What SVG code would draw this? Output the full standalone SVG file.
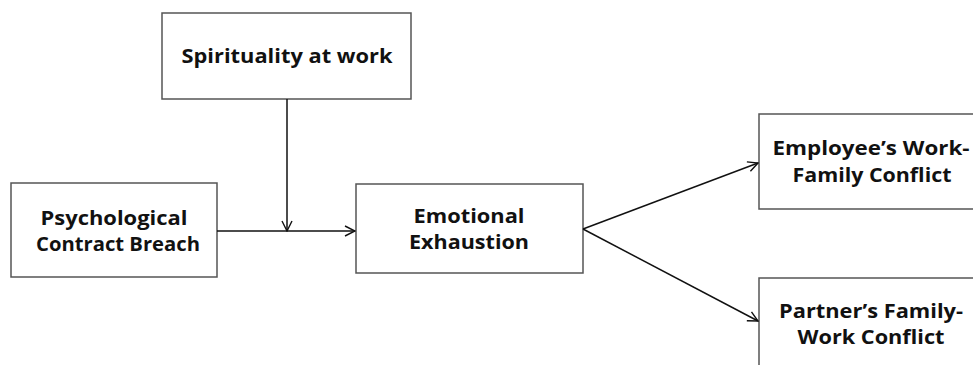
<svg xmlns="http://www.w3.org/2000/svg" width="973" height="365" viewBox="0 0 973 365">
<style>
.box{fill:#fff;stroke:#555;stroke-width:1.5}
.lbl{font-family:"Open Sans","Liberation Sans",sans-serif;font-weight:bold;font-size:19px;fill:#111;text-anchor:middle}
.con{stroke:#111;stroke-width:1.5;fill:none}
</style>
<defs>
<marker id="arr" viewBox="0 0 12 12" refX="11" refY="6" markerWidth="12" markerHeight="12" markerUnits="userSpaceOnUse" orient="auto">
<path d="M1,1 L11,6 L1,11" fill="none" stroke="#111" stroke-width="1.4"/>
</marker>
</defs>
<rect width="973" height="365" fill="#fff"/>
<g id="spirituality">
<rect class="box" x="162" y="13" width="249" height="86"/>
<text class="lbl" x="287" y="63" textLength="211" lengthAdjust="spacingAndGlyphs">Spirituality at work</text>
</g>
<g id="pcb">
<rect class="box" x="11" y="183" width="206" height="94"/>
<text class="lbl" x="114" y="225" textLength="147" lengthAdjust="spacingAndGlyphs">Psychological</text>
<text class="lbl" x="118" y="251" textLength="164" lengthAdjust="spacingAndGlyphs">Contract Breach</text>
</g>
<g id="ee">
<rect class="box" x="356" y="184" width="227" height="89"/>
<text class="lbl" x="469" y="223" textLength="111" lengthAdjust="spacingAndGlyphs">Emotional</text>
<text class="lbl" x="469" y="249" textLength="120" lengthAdjust="spacingAndGlyphs">Exhaustion</text>
</g>
<g id="ewfc">
<rect class="box" x="759" y="114" width="230" height="95"/>
<text class="lbl" x="871" y="155" textLength="197" lengthAdjust="spacingAndGlyphs">Employee’s Work-</text>
<text class="lbl" x="872" y="182" textLength="159" lengthAdjust="spacingAndGlyphs">Family Conflict</text>
</g>
<g id="pfwc">
<rect class="box" x="759" y="278" width="230" height="100"/>
<text class="lbl" x="871" y="318" textLength="184" lengthAdjust="spacingAndGlyphs">Partner’s Family-</text>
<text class="lbl" x="871" y="344" textLength="147" lengthAdjust="spacingAndGlyphs">Work Conflict</text>
</g>
<g id="connectors">
<line class="con" x1="217" y1="231" x2="355" y2="231" marker-end="url(#arr)"/>
<line class="con" x1="287" y1="99" x2="287" y2="231" marker-end="url(#arr)"/>
<line class="con" x1="583" y1="229" x2="758" y2="163" marker-end="url(#arr)"/>
<line class="con" x1="583" y1="229" x2="758" y2="321" marker-end="url(#arr)"/>
</g>
</svg>
